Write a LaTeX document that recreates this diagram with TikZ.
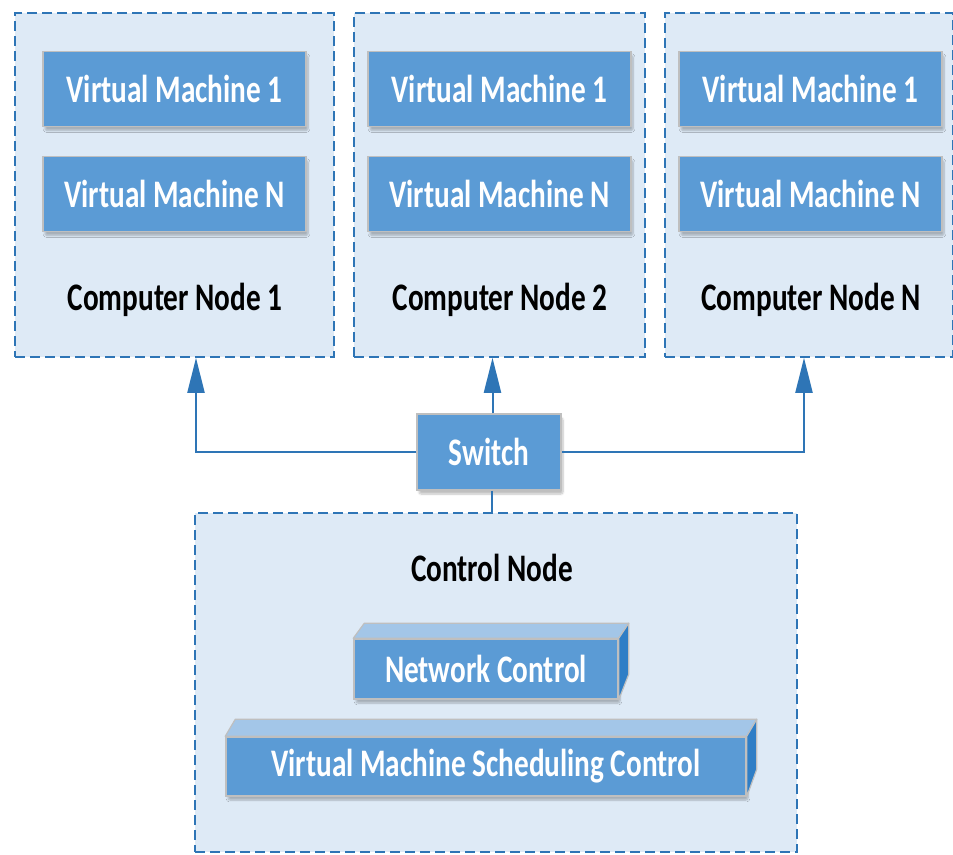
\documentclass[tikz,border=0pt]{standalone}
\usepackage{fontspec}
\setmainfont{Carlito}[FakeStretch=0.75]
\usetikzlibrary{arrows.meta,shadows.blur}

\definecolor{panelfill}{HTML}{DEEAF6}
\definecolor{paneledge}{HTML}{2E75B6}
\definecolor{boxfill}{HTML}{5B9BD5}
\definecolor{boxline}{HTML}{BFBFBF}
\definecolor{topface}{HTML}{A3C6E8}
\definecolor{sideface}{HTML}{2F7EC6}
\definecolor{linkcol}{HTML}{2E75B6}

\tikzset{
  panel/.style={draw=paneledge, fill=panelfill, line width=1.5pt,
    dash pattern=on 10pt off 5pt, inner sep=0pt},
  boxshadow/.style={blur shadow={shadow xshift=2pt, shadow yshift=-4pt,
    shadow blur steps=6, shadow blur extra rounding=2pt, shadow opacity=25}},
  bluebox/.style={draw=boxline, fill=boxfill, line width=1.5pt, text=white,
    inner sep=0pt, font=\bfseries\fontsize{39}{39}\selectfont, boxshadow},
  vmbox/.style={bluebox, minimum width=263pt, minimum height=75pt},
  caption/.style={text=black, inner sep=0pt, font=\bfseries\fontsize{39}{39}\selectfont},
  topf/.style={draw=boxline, fill=topface, line width=1.2pt, line join=round},
  sidef/.style={draw=boxline, fill=sideface, line width=1.2pt, line join=round},
  link/.style={draw=linkcol, line width=2pt},
  uparrow/.style={link, -{Triangle[length=35pt, width=17pt]}},
}

\begin{document}
\begin{tikzpicture}[x=1pt, y=-1pt]
\useasboundingbox (0,0) rectangle (953,854);

% compute node containers
\node[panel, minimum width=319pt, minimum height=344pt] (cn1) at (174.5,185) {};
\node[panel, minimum width=291pt, minimum height=344pt] (cn2) at (499.5,185) {};
\node[panel, minimum width=288pt, minimum height=344pt] (cn3) at (809,185) {};

% virtual machines
\node[vmbox] (vm11) at (174.5,89) {Virtual Machine 1};
\node[vmbox] (vm1n) at (174.5,194) {Virtual Machine N};
\node[vmbox] (vm21) at (499.5,89) {Virtual Machine 1};
\node[vmbox] (vm2n) at (499.5,194) {Virtual Machine N};
\node[vmbox] (vm31) at (810.5,89) {Virtual Machine 1};
\node[vmbox] (vm3n) at (810.5,194) {Virtual Machine N};

\node[caption] (l1) at (175,300) {Computer Node 1};
\node[caption] (l2) at (500,300) {Computer Node 2};
\node[caption] (l3) at (811,300) {Computer Node N};

% control node container
\node[panel, minimum width=602pt, minimum height=339pt] (ctl) at (496,682.5) {};
\node[caption] (lc) at (492,568) {Control Node};

% switch
\node[bluebox, minimum width=144pt, minimum height=76pt] (sw) at (489,452) {Switch};

% links
\draw[uparrow] (sw.west) -| ([xshift=21.5pt]cn1.south);
\draw[uparrow] (sw.east) -| ([xshift=-5pt]cn3.south);
\draw[uparrow] ([xshift=3.5pt]sw.north) -- ([xshift=3.5pt]sw.north |- cn2.south);
\draw[link] ([xshift=3pt]sw.south) -- ([xshift=3pt]sw.south |- ctl.north);

% network control block
\node[bluebox, minimum width=264pt, minimum height=60pt] (nc) at (486,669) {Network Control};
\path[topf] (nc.north west) -- ++(11,-15) -- ([shift={(10,-15)}]nc.north east) -- (nc.north east) -- cycle;
\path[sidef] (nc.north east) -- ++(10,-15) -- ++(0,51) -- (nc.south east) -- cycle;

% scheduling control block
\node[bluebox, minimum width=520pt, minimum height=59pt] (vs) at (486,766.5) {Virtual Machine Scheduling Control};
\path[topf] (vs.north west) -- ++(10,-17) -- ([shift={(10,-17)}]vs.north east) -- (vs.north east) -- cycle;
\path[sidef] (vs.north east) -- ++(10,-17) -- ++(0,50) -- (vs.south east) -- cycle;
\end{tikzpicture}
\end{document}
